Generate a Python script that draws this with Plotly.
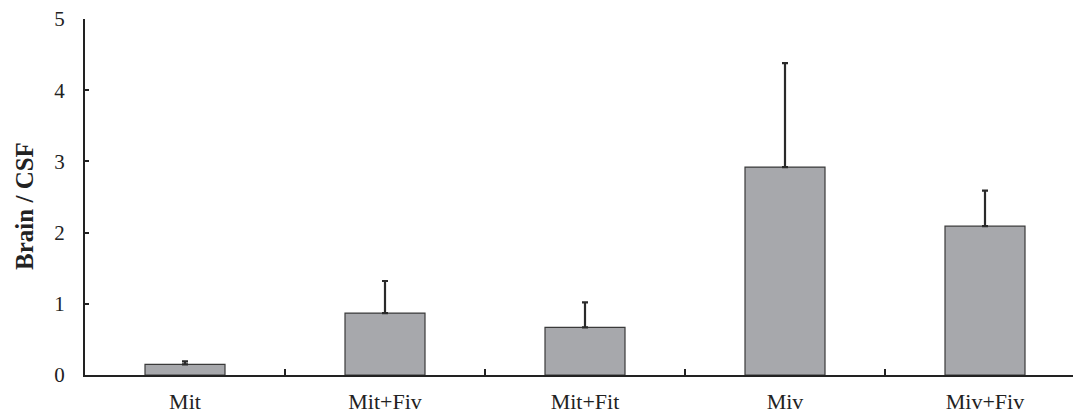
import plotly.graph_objects as go

categories = ["Mit", "Mit+Fiv", "Mit+Fit", "Miv", "Miv+Fiv"]
means = [0.15, 0.87, 0.67, 2.92, 2.09]
sd = [0.04, 0.45, 0.35, 1.46, 0.50]
y_ticks = [0, 1, 2, 3, 4, 5]
y_title = "Brain / CSF"

font_family = "Liberation Serif, Times New Roman, serif"

fig = go.Figure(
    go.Bar(
        x=categories,
        y=means,
        width=0.4,
        marker=dict(color="#a7a8ac", line=dict(color="#3a3a3a", width=1.2)),
        error_y=dict(
            type="data",
            symmetric=False,
            array=sd,
            arrayminus=[0] * len(sd),
            color="#2a2a2a",
            thickness=2.2,
            width=3,
        ),
    )
)

fig.update_layout(
    width=1073,
    height=414,
    margin=dict(l=85, r=0, t=19, b=37),
    plot_bgcolor="white",
    paper_bgcolor="white",
    showlegend=False,
    font=dict(family=font_family, size=21, color="#222"),
)

fig.add_annotation(
    text="<b>" + y_title + "</b>",
    xref="paper",
    yref="paper",
    x=-0.0607,
    y=0.475,
    xanchor="center",
    yanchor="middle",
    textangle=-90,
    showarrow=False,
    font=dict(family=font_family, size=25, color="#222"),
)

fig.update_xaxes(
    type="category",
    range=[-0.5, 4.44],
    showline=True,
    linecolor="#222",
    linewidth=2,
    ticks="inside",
    tickson="boundaries",
    ticklen=6,
    tickwidth=2,
    tickcolor="#222",
    showgrid=False,
    ticklabelstandoff=6,
    tickfont=dict(family=font_family, size=22, color="#222"),
)

fig.update_yaxes(
    range=[0, 5],
    tickvals=y_ticks,
    ticktext=[str(v) for v in y_ticks],
    showline=True,
    linecolor="#222",
    linewidth=2,
    ticks="inside",
    ticklen=4,
    tickwidth=2,
    tickcolor="#222",
    showgrid=False,
    zeroline=False,
    ticklabelstandoff=14,
    tickfont=dict(family=font_family, size=21, color="#222"),
)

fig.write_html(
    "out.html",
    config={"displayModeBar": False},
    post_script="document.body.style.margin='0';document.body.style.overflow='hidden';",
)
